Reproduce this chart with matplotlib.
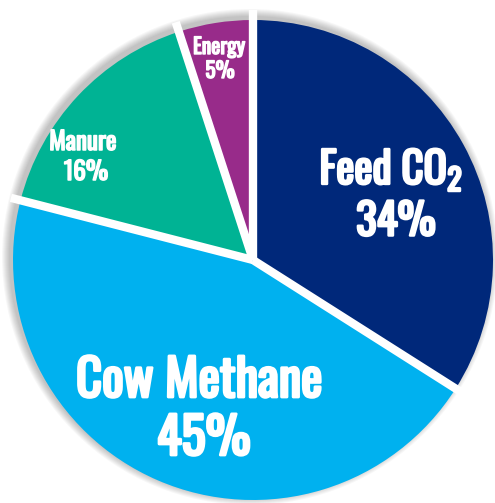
import matplotlib
matplotlib.use("Agg")
import matplotlib.pyplot as plt
import matplotlib.patheffects as pe
from matplotlib.patches import Circle
import numpy as np

# emission sources, share of total (%)
labels = ["Feed CO$_{\\mathrm{2}}$", "Cow Methane", "Manure", "Energy"]
shares = [34, 45, 16, 5]
colors = ["#00287a", "#00b1ef", "#00b394", "#982b8a"]

plt.rcParams['font.family'] = ['Oswald', 'Roboto Condensed', 'DejaVu Sans']
plt.rcParams['mathtext.fontset'] = 'custom'
plt.rcParams['mathtext.rm'] = 'Oswald'

fig = plt.figure(figsize=(4.95, 5.03), dpi=100)
ax = fig.add_axes([0, 0, 1, 1])

cx, cy, r = 253, 243, 240

# soft grey halo behind the pie, pushed a little up and left
for k in range(8):
    ax.add_patch(Circle((cx - 3, cy + 3), r + 1 + k, fc='black', ec='none',
                        alpha=0.03, zorder=0))

wedges, _ = ax.pie(shares, colors=colors, startangle=90, counterclock=False,
                   radius=r, center=(cx, cy), frame=True,
                   wedgeprops=dict(linewidth=0))
ax.set_xlim(0, 495)
ax.set_ylim(0, 503)
ax.set_aspect('equal')
ax.axis('off')

# white gaps between the slices
for w in wedges:
    a = np.deg2rad(w.theta1)
    ax.plot([cx, cx + (r + 10) * np.cos(a)], [cy, cy + (r + 10) * np.sin(a)],
            color='white', lw=6, solid_capstyle='butt', zorder=3)

# labels, thickened with a white outline
def label(x, y, s, size, lw):
    ax.text(x, y, s, fontsize=size, color='white', ha='center', va='center',
            zorder=4, path_effects=[pe.withStroke(linewidth=lw, foreground='white')])

label(391, 333, labels[0], 31, 1.8)
label(396, 281, f"{shares[0]}%", 31, 1.8)
label(199, 122, labels[1], 36.5, 2.0)
label(204, 64, f"{shares[1]}%", 36.5, 2.0)
label(83, 361, labels[2], 18, 1.1)
label(86, 331, f"{shares[2]}%", 18, 1.1)
label(219, 456, labels[3], 15.5, 1.0)
label(220, 432, f"{shares[3]}%", 15.5, 1.0)

fig.savefig('out.png', dpi=100)
